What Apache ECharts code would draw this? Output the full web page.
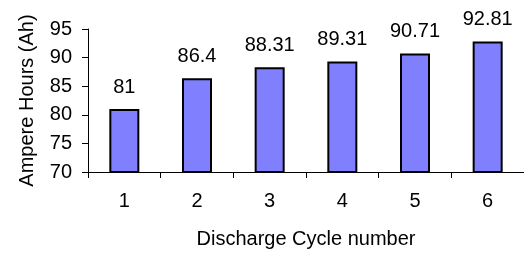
<!DOCTYPE html>
<html>
<head>
<meta charset="utf-8">
<script src="https://cdn.jsdelivr.net/npm/echarts@6/dist/echarts.min.js"></script>
<style>
html,body{margin:0;padding:0;background:#fff;}
#c{width:524px;height:254px;}
</style>
</head>
<body>
<div id="c"></div>
<script>
const categories = ['1','2','3','4','5','6'];
const ampereHours = [81, 86.4, 88.31, 89.31, 90.71, 92.81];
const xAxisTitle = 'Discharge Cycle number';
const yAxisTitle = 'Ampere Hours (Ah)';

const chart = echarts.init(document.getElementById('c'), null, {renderer:'canvas'});
const font = 'Liberation Sans, Arial, sans-serif';
const fs = 20;
chart.setOption({
  animation: false,
  grid: {left: 88, top: 29, bottom: 81, right: -4, containLabel: false},
  xAxis: {
    type: 'category',
    data: categories,
    boundaryGap: true,
    axisLine: {show: true, lineStyle: {color: '#000', width: 1}},
    axisTick: {show: true, length: 6, alignWithLabel: false, lineStyle: {color: '#000'}},
    axisLabel: {fontSize: fs, color: '#000', fontFamily: font, margin: 19},
    name: xAxisTitle,
    nameLocation: 'middle',
    nameGap: 57,
    nameTextStyle: {fontSize: fs, color: '#000', fontFamily: font}
  },
  yAxis: {
    type: 'value',
    min: 70, max: 95, interval: 5,
    axisLine: {show: true, lineStyle: {color: '#000', width: 1}},
    axisTick: {show: true, length: 6, lineStyle: {color: '#000'}},
    splitLine: {show: false},
    axisLabel: {fontSize: fs, color: '#000', fontFamily: font, margin: 16},
    name: yAxisTitle,
    nameLocation: 'middle',
    nameRotate: 90,
    nameGap: 51,
    nameTextStyle: {fontSize: fs, color: '#000', fontFamily: font}
  },
  series: [{
    type: 'bar',
    data: ampereHours,
    barWidth: 30,
    itemStyle: {color: '#8080ff', borderColor: '#000', borderWidth: 2},
    label: {show: true, position: 'top', distance: 12, fontSize: fs, color: '#000', fontFamily: font}
  }]
});
</script>
</body>
</html>
